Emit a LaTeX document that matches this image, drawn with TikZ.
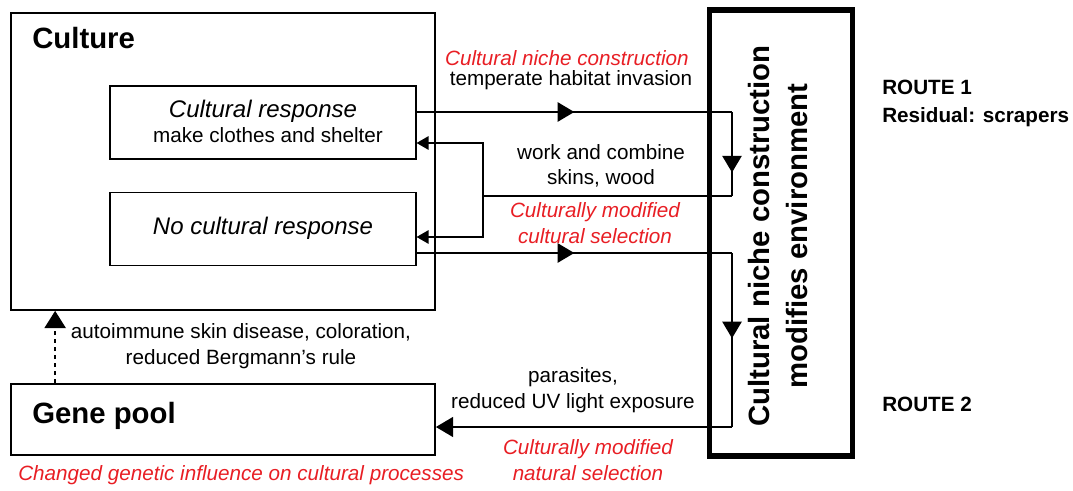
\documentclass[tikz,border=0pt]{standalone}
\usepackage{fontspec}
\setmainfont{Liberation Sans}
\usetikzlibrary{arrows.meta,calc,decorations.markings}
\definecolor{cred}{RGB}{232,30,36}

\tikzset{
  box/.style={draw, line width=1.3pt, inner sep=0pt},
  inbox/.style={draw, line width=0.8pt, inner sep=0pt},
  txt/.style={inner sep=0pt, align=center, font=\fontsize{15.5}{19}\selectfont},
  redtxt/.style={txt, text=cred, font=\fontsize{15.5}{19}\selectfont\itshape},
  bigtxt/.style={inner sep=0.75pt, font=\fontsize{22}{26}\selectfont\bfseries},
  routetxt/.style={inner sep=0.75pt, anchor=west, font=\fontsize{15.5}{19}\selectfont\bfseries},
  link/.style={line width=1.3pt},
  midtri/.style={postaction={decorate}, decoration={markings,
      mark=at position #1 with {\arrow{Triangle[length=12.5pt,width=14.5pt]}}}},
  midtri/.default=0.5,
}

\begin{document}
\begin{tikzpicture}[x=0.75pt,y=0.75pt,yscale=-1,xscale=1]
\useasboundingbox (0,0) rectangle (1073,491);

%Shape: Rectangle [culture]
\node [box, minimum width=318pt, minimum height=222.75pt] (culture) at (223,161.5) {};
%Shape: Rectangle [responses]
\node [inbox, minimum width=229.5pt, minimum height=54.75pt] (resp) at (263,122.5) {};
\node [inbox, minimum width=229.5pt, minimum height=54.75pt] (noresp) at (263,229) {};
%Shape: Rectangle [gene pool]
\node [box, minimum width=318pt, minimum height=53.25pt] (gene) at (223,419.5) {};
%Shape: Rectangle [niche]
\node [draw, line width=3.8pt, minimum width=107.25pt, minimum height=334.5pt] (niche) at (781,233) {};

% corners of the routes
\coordinate (r1a) at (732,112);
\coordinate (r1b) at (732,196);
\coordinate (r1c) at (483,196);
\coordinate (r1d) at (483,143);
\coordinate (r1e) at (483,237);
\coordinate (r2a) at (732,253);
\coordinate (r2b) at (732,427);

%Route 1
\draw [link, midtri] (resp.east |- r1a) -- (r1a);
\draw [link, midtri=0.72] (r1a) -- (r1b);
\draw [link] (r1b) -- (r1c);
\draw [link, {Triangle[length=9pt,width=10pt]}-{Triangle[length=9pt,width=10pt]}] (resp.east |- r1d) -- (r1d) -- (r1e) -- (noresp.east |- r1e);
%Route 2
\draw [link, midtri] (noresp.east |- r2a) -- (r2a);
\draw [link, midtri=0.49] (r2a) -- (r2b);
\draw [link, -{Triangle[length=13pt,width=15pt]}] (r2b) -- (gene.east |- r2b);
%Dashed arrow up
\coordinate (gp) at ($(gene.north west)+(45,0)$);
\draw [link, dashed, -{Triangle[length=13pt,width=16pt]}] (gp) -- (gp |- culture.south);

% Text Node
\node [bigtxt, anchor=west] (culturetxt) at (31,38) {Culture};
\node [bigtxt, anchor=west] (genetxt) at (31,416) {Gene pool};
\node [txt, font=\fontsize{18}{22}\selectfont\itshape] (resptxt) at (263,111) {Cultural response};
\node [txt] (resptxt2) at (268,135) {make clothes and shelter};
\node [txt, font=\fontsize{18}{22}\selectfont\itshape] (norsptxt) at (263,228) {No cultural response};
% Text Node
\node [redtxt] (cnc) at (567,58) {Cultural niche construction};
\node [txt] (temp) at (571,80) {temperate habitat invasion};
\node [txt] (work) at (601,166) {work and combine\\skins, wood};
\node [redtxt] (cmcs) at (595,223) {Culturally modified\\cultural selection};
\node [txt] (para) at (573,390) {parasites,\\reduced UV light exposure};
\node [redtxt] (cmns) at (588,460) {Culturally modified\\natural selection};
\node [txt] (auto) at (241,346) {autoimmune skin disease, coloration,\\reduced Bergmann’s rule};
\node [redtxt, anchor=west] (changed) at (18,475) {Changed genetic influence on cultural processes};
% Text Node
\node [bigtxt, rotate=90, align=center, font=\fontsize{22}{28}\selectfont\bfseries] (nichetxt) at (778,236) {Cultural niche construction\\modifies environment};
\node [routetxt] (route1) at (881,87) {ROUTE 1};
\node [routetxt] (resid) at (881,117) {Residual: scrapers};
\node [routetxt] (route2) at (881,404) {ROUTE 2};

\end{tikzpicture}
\end{document}
